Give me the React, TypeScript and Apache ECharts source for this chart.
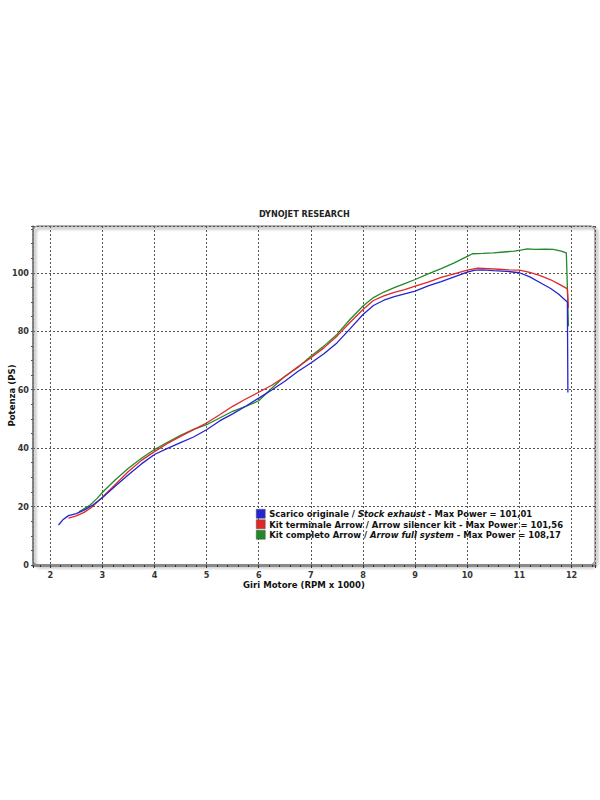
import React, { useEffect, useRef } from 'react';
import * as echarts from 'echarts';

const titleText = 'DYNOJET RESEARCH';
const xAxisName = 'Giri Motore (RPM x 1000)';
const yAxisName = 'Potenza (PS)';

const seriesKeys = ['stock', 'silencer', 'full'];
const seriesColors = ['#2424d0', '#e02828', '#23882a'];
const legendPlain = ['Scarico originale / ', 'Kit terminale Arrow / ', 'Kit completo Arrow / '];
const legendSub = ['Stock exhaust', 'Arrow silencer kit', 'Arrow full system'];
const legendSubItalic = [true, false, true];
const legendMax = ['101,01', '101,56', '108,17'];

const stockRpm = [2.16, 2.25, 2.35, 2.5, 2.65, 2.8, 3.0, 3.25, 3.5, 3.75, 4.0, 4.25, 4.5, 4.75, 5.0, 5.25, 5.5, 5.75, 6.0, 6.25, 6.5, 6.75, 7.0, 7.25, 7.5, 7.75, 8.0, 8.2, 8.4, 8.6, 8.8, 9.0, 9.25, 9.5, 9.75, 10.0, 10.15, 10.3, 10.5, 10.75, 11.0, 11.2, 11.4, 11.6, 11.75, 11.87, 11.92, 11.93];
const stockPs = [13.7, 15.6, 16.9, 17.6, 18.8, 20.3, 23.0, 27.0, 30.9, 34.6, 37.8, 39.9, 41.9, 43.8, 46.3, 49.3, 51.7, 54.3, 57.1, 59.9, 62.9, 66.2, 69.1, 72.3, 76.0, 80.8, 85.7, 88.8, 90.6, 91.8, 92.8, 93.7, 95.5, 97.0, 98.6, 100.2, 100.9, 101.0, 100.7, 100.5, 100.0, 98.6, 96.6, 94.6, 92.7, 90.8, 90.0, 59.0];

const silencerRpm = [2.35, 2.5, 2.65, 2.8, 3.0, 3.25, 3.5, 3.75, 4.0, 4.25, 4.5, 4.75, 5.0, 5.25, 5.5, 5.75, 6.0, 6.25, 6.5, 6.75, 7.0, 7.25, 7.5, 7.75, 8.0, 8.2, 8.4, 8.6, 8.8, 9.0, 9.25, 9.5, 9.75, 10.0, 10.2, 10.4, 10.6, 10.8, 11.0, 11.2, 11.4, 11.6, 11.75, 11.88, 11.92, 11.94];
const silencerPs = [16.0, 16.8, 18.0, 19.8, 23.2, 27.6, 32.0, 35.8, 38.8, 41.6, 44.0, 46.3, 48.6, 51.4, 54.3, 56.8, 59.1, 61.5, 64.4, 67.8, 70.9, 74.3, 78.3, 83.0, 87.4, 90.5, 92.1, 93.3, 94.2, 95.4, 96.8, 98.4, 99.6, 100.9, 101.56, 101.4, 101.2, 101.0, 100.9, 100.1, 99.0, 97.6, 96.2, 94.9, 94.5, 88.0];

const fullRpm = [2.55, 2.75, 2.9, 3.0, 3.25, 3.5, 3.75, 4.0, 4.25, 4.5, 4.75, 5.0, 5.25, 5.5, 5.75, 6.0, 6.25, 6.5, 6.75, 7.0, 7.25, 7.5, 7.75, 8.0, 8.2, 8.4, 8.6, 8.8, 9.0, 9.25, 9.5, 9.75, 10.0, 10.1, 10.3, 10.5, 10.7, 10.9, 11.05, 11.15, 11.3, 11.5, 11.65, 11.8, 11.9, 11.92, 11.94];
const fullPs = [18.2, 20.3, 22.8, 24.8, 29.2, 33.1, 36.5, 39.5, 42.0, 44.4, 46.4, 48.0, 50.3, 52.6, 54.3, 56.2, 60.5, 64.6, 67.6, 71.4, 74.9, 78.9, 84.0, 88.6, 91.5, 93.4, 94.9, 96.3, 97.7, 99.6, 101.4, 103.4, 105.6, 106.5, 106.6, 106.8, 107.1, 107.4, 107.8, 108.17, 108.0, 108.1, 108.0, 107.4, 106.8, 95.0, 81.7];

const seriesRpm = [stockRpm, silencerRpm, fullRpm];
const seriesPs = [stockPs, silencerPs, fullPs];

const FONT = "'DejaVu Sans Condensed', 'DejaVu Sans', sans-serif";

export default function App() {
  const ref = useRef<HTMLDivElement>(null);
  useEffect(() => {
    if (!ref.current) return;
    const chart = echarts.init(ref.current, undefined, { renderer: 'svg' });
    const series = seriesKeys.map((k, i) => ({
      name: k,
      type: 'line',
      showSymbol: false,
      symbol: 'none',
      data: seriesRpm[i].map((x, j) => [x, seriesPs[i][j]]),
      lineStyle: { color: seriesColors[i], width: 1.3 },
      itemStyle: { color: seriesColors[i] },
      z: 3 + (2 - i),
    }));
    const option: any = {
      animation: false,
      backgroundColor: '#ffffff',
      title: {
        text: titleText,
        left: 259,
        top: 209,
        padding: 0,
        textStyle: { fontFamily: FONT, fontSize: 9, fontWeight: 'bold', color: '#222' },
      },
      grid: {
        left: 33,
        top: 226,
        right: 5,
        bottom: 235,
        containLabel: false,
        outerBoundsMode: 'none',
      },
      graphic: [
        {
          type: 'rect',
          z: -10,
          shape: { x: 33, y: 226, width: 562, height: 339, r: 5 },
          style: {
            fill: 'none',
            stroke: '#9a9a9a',
            lineWidth: 1.5,
            shadowBlur: 3,
            shadowColor: 'rgba(0,0,0,0.45)',
            shadowOffsetX: 2,
            shadowOffsetY: 2,
          },
        },
      ],
      legend: {
        left: 256,
        top: 509,
        padding: 0,
        orient: 'vertical',
        itemWidth: 9,
        itemHeight: 9,
        itemGap: 1,
        icon: 'rect',
        selectedMode: false,
        data: seriesKeys.map((k, i) => ({
          name: k,
          itemStyle: { color: seriesColors[i], borderColor: '#555', borderWidth: 0.5 },
        })),
        formatter: (name: string) => {
          const i = seriesKeys.indexOf(name);
          const sub = legendSubItalic[i] ? 'i' : 'n';
          return `{n|${legendPlain[i]}}{${sub}|${legendSub[i]}}{n| - Max Power = ${legendMax[i]}}`;
        },
        textStyle: {
          padding: [0, 0, 0, -1],
          rich: {
            n: { fontFamily: FONT, fontSize: 9.4, fontWeight: 'bold', color: '#111', lineHeight: 10 },
            i: { fontFamily: FONT, fontSize: 9.4, fontWeight: 'bold', fontStyle: 'italic', color: '#111', lineHeight: 10 },
          },
        },
      },
      xAxis: {
        type: 'value',
        min: 1.67,
        max: 12.45,
        minInterval: 1,
        maxInterval: 1,
        name: xAxisName,
        nameLocation: 'middle',
        nameGap: 13,
        nameTextStyle: { fontFamily: FONT, fontSize: 9.5, fontWeight: 'bold', color: '#111', padding: [0, 20, 0, 0] },
        axisLine: { show: true, onZero: false, lineStyle: { color: '#8a8a8a', width: 3 } },
        axisTick: { show: true, length: 3, lineStyle: { color: '#333', width: 1 } },
        minorTick: { show: true, splitNumber: 5, length: 2, lineStyle: { color: '#333', width: 1 } },
        axisLabel: {
          margin: 5,
          fontFamily: FONT,
          fontSize: 9,
          fontWeight: 'bold',
          color: '#333',
          formatter: (v: number) => (Math.abs(v - Math.round(v)) < 1e-6 ? String(Math.round(v)) : ''),
        },
        splitLine: { show: true, lineStyle: { color: '#555', width: 1, type: [2, 2] } },
      },
      yAxis: {
        type: 'value',
        min: 0,
        max: 116,
        interval: 20,
        name: yAxisName,
        nameLocation: 'middle',
        nameGap: 17,
        nameMoveOverlap: false,
        nameRotate: 90,
        nameTextStyle: { fontFamily: FONT, fontSize: 9.5, fontWeight: 'bold', color: '#111' },
        axisLine: { show: true, lineStyle: { color: '#777', width: 1.5 } },
        axisTick: { show: true, length: 2, lineStyle: { color: '#555' } },
        minorTick: { show: true, splitNumber: 4, length: 2, lineStyle: { color: '#555' } },
        axisLabel: {
          margin: 4,
          fontFamily: FONT,
          fontSize: 9,
          fontWeight: 'bold',
          color: '#333',
          formatter: (v: number) => (v % 20 === 0 && v <= 100 ? String(v) : ''),
        },
        splitLine: { show: true, lineStyle: { color: '#555', width: 1, type: [2, 2] } },
      },
      series,
    };
    chart.setOption(option);
    return () => chart.dispose();
  }, []);
  return (
    <div
      ref={ref}
      style={{ position: 'absolute', left: 0, top: 0, width: 600, height: 800, background: '#fff' }}
    />
  );
}
